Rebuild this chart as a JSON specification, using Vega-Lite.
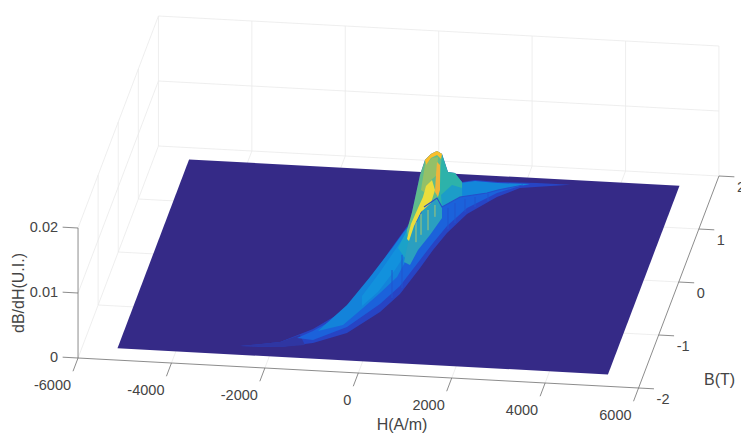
{"$schema":"https://vega.github.io/schema/vega-lite/v6.json","width":741,"height":433,"padding":0,"autosize":{"type":"none"},"background":"white","config":{"view":{"stroke":null}},
"data":{"values":[
{"k":"grid","p":"b1","H":-6000,"B":2,"z":0},{"k":"grid","p":"b1","H":-6000,"B":2,"z":0.02},
{"k":"grid","p":"b2","H":-4000,"B":2,"z":0},{"k":"grid","p":"b2","H":-4000,"B":2,"z":0.02},
{"k":"grid","p":"b3","H":-2000,"B":2,"z":0},{"k":"grid","p":"b3","H":-2000,"B":2,"z":0.02},
{"k":"grid","p":"b4","H":0,"B":2,"z":0},{"k":"grid","p":"b4","H":0,"B":2,"z":0.02},
{"k":"grid","p":"b5","H":2000,"B":2,"z":0},{"k":"grid","p":"b5","H":2000,"B":2,"z":0.02},
{"k":"grid","p":"b6","H":4000,"B":2,"z":0},{"k":"grid","p":"b6","H":4000,"B":2,"z":0.02},
{"k":"grid","p":"b7","H":6000,"B":2,"z":0},{"k":"grid","p":"b7","H":6000,"B":2,"z":0.02},
{"k":"grid","p":"l1","H":-6000,"B":-1,"z":0},{"k":"grid","p":"l1","H":-6000,"B":-1,"z":0.02},
{"k":"grid","p":"l2","H":-6000,"B":0,"z":0},{"k":"grid","p":"l2","H":-6000,"B":0,"z":0.02},
{"k":"grid","p":"l3","H":-6000,"B":1,"z":0},{"k":"grid","p":"l3","H":-6000,"B":1,"z":0.02},
{"k":"grid","p":"h0","H":-6000,"B":2,"z":0},{"k":"grid","p":"h0","H":6000,"B":2,"z":0},
{"k":"grid","p":"h1","H":-6000,"B":2,"z":0.01},{"k":"grid","p":"h1","H":6000,"B":2,"z":0.01},
{"k":"grid","p":"h2","H":-6000,"B":2,"z":0.02},{"k":"grid","p":"h2","H":6000,"B":2,"z":0.02},
{"k":"grid","p":"m0","H":-6000,"B":-2,"z":0},{"k":"grid","p":"m0","H":-6000,"B":2,"z":0},
{"k":"grid","p":"m1","H":-6000,"B":-2,"z":0.01},{"k":"grid","p":"m1","H":-6000,"B":2,"z":0.01},
{"k":"grid","p":"m2","H":-6000,"B":-2,"z":0.02},{"k":"grid","p":"m2","H":-6000,"B":2,"z":0.02},
{"k":"grid","p":"f1","H":-4000,"B":-2,"z":0},{"k":"grid","p":"f1","H":-4000,"B":2,"z":0},
{"k":"grid","p":"f2","H":-2000,"B":-2,"z":0},{"k":"grid","p":"f2","H":-2000,"B":2,"z":0},
{"k":"grid","p":"f3","H":0,"B":-2,"z":0},{"k":"grid","p":"f3","H":0,"B":2,"z":0},
{"k":"grid","p":"f4","H":2000,"B":-2,"z":0},{"k":"grid","p":"f4","H":2000,"B":2,"z":0},
{"k":"grid","p":"f5","H":4000,"B":-2,"z":0},{"k":"grid","p":"f5","H":4000,"B":2,"z":0},
{"k":"grid","p":"g1","H":-6000,"B":-1,"z":0},{"k":"grid","p":"g1","H":6000,"B":-1,"z":0},
{"k":"grid","p":"g2","H":-6000,"B":0,"z":0},{"k":"grid","p":"g2","H":6000,"B":0,"z":0},
{"k":"grid","p":"g3","H":-6000,"B":1,"z":0},{"k":"grid","p":"g3","H":6000,"B":1,"z":0},
{"k":"poly","p":"base","H":-5250,"B":-1.78,"z":0},{"k":"poly","p":"base","H":5250,"B":-1.78,"z":0},{"k":"poly","p":"base","H":5250,"B":1.78,"z":0},{"k":"poly","p":"base","H":-5250,"B":1.78,"z":0},
{"k":"poly","p":"outer","H":-2700,"B":-1.62,"z":0},{"k":"poly","p":"outer","H":-1890,"B":-1.504,"z":0},{"k":"poly","p":"outer","H":-1300,"B":-1.231,"z":0},{"k":"poly","p":"outer","H":-747,"B":-0.828,"z":0},{"k":"poly","p":"outer","H":-495,"B":-0.269,"z":0},{"k":"poly","p":"outer","H":-314,"B":0.306,"z":0},{"k":"poly","p":"outer","H":-184,"B":0.652,"z":0},{"k":"poly","p":"outer","H":-116,"B":0.843,"z":0},{"k":"poly","p":"outer","H":-140,"B":1,"z":0.00025},{"k":"poly","p":"outer","H":30,"B":1,"z":0.00602},{"k":"poly","p":"outer","H":137,"B":1,"z":0.00835},{"k":"poly","p":"outer","H":265,"B":1,"z":0.00934},{"k":"poly","p":"outer","H":394,"B":1,"z":0.00985},{"k":"poly","p":"outer","H":501,"B":1,"z":0.00942},{"k":"poly","p":"outer","H":629,"B":1,"z":0.00671},{"k":"poly","p":"outer","H":651,"B":1.3,"z":0.00411},{"k":"poly","p":"outer","H":715,"B":1.3,"z":0.00352},{"k":"poly","p":"outer","H":801,"B":1.3,"z":0.00278},{"k":"poly","p":"outer","H":1079,"B":1.3,"z":0.0032},{"k":"poly","p":"outer","H":1484,"B":1.5,"z":0.00142},{"k":"poly","p":"outer","H":2277,"B":1.6,"z":0.00075},{"k":"poly","p":"outer","H":2950,"B":1.69,"z":0},{"k":"poly","p":"outer","H":1920,"B":1.581,"z":0},{"k":"poly","p":"outer","H":1509,"B":1.392,"z":0},{"k":"poly","p":"outer","H":1016,"B":1.048,"z":0},{"k":"poly","p":"outer","H":747,"B":0.677,"z":0},{"k":"poly","p":"outer","H":589,"B":0.349,"z":0},{"k":"poly","p":"outer","H":460,"B":0.003,"z":0},{"k":"poly","p":"outer","H":246,"B":-0.498,"z":0},{"k":"poly","p":"outer","H":-30,"B":-0.85,"z":0},{"k":"poly","p":"outer","H":-556,"B":-1.271,"z":0},{"k":"poly","p":"outer","H":-1190,"B":-1.49,"z":0},{"k":"poly","p":"outer","H":-1850,"B":-1.597,"z":0},
{"k":"poly","p":"tail","H":-2700,"B":-1.62,"z":0},{"k":"poly","p":"tail","H":-1890,"B":-1.504,"z":0},{"k":"poly","p":"tail","H":-1526,"B":-1.355,"z":0},{"k":"poly","p":"tail","H":-1342,"B":-1.535,"z":0},{"k":"poly","p":"tail","H":-1850,"B":-1.597,"z":0},
{"k":"poly","p":"L1","H":-1513,"B":-1.533,"z":0.001},{"k":"poly","p":"L1","H":-1234,"B":-1.388,"z":0.001},{"k":"poly","p":"L1","H":-671,"B":-1.003,"z":0.001},{"k":"poly","p":"L1","H":-411,"B":-0.463,"z":0.001},{"k":"poly","p":"L1","H":-230,"B":0.112,"z":0.001},{"k":"poly","p":"L1","H":-79,"B":0.458,"z":0.001},{"k":"poly","p":"L1","H":-23,"B":0.725,"z":0.001},{"k":"poly","p":"L1","H":390,"B":1.16,"z":0.001},{"k":"poly","p":"L1","H":740,"B":1.44,"z":0.001},{"k":"poly","p":"L1","H":1479,"B":1.513,"z":0.001},{"k":"poly","p":"L1","H":2154,"B":1.535,"z":0.001},{"k":"poly","p":"L1","H":1956,"B":1.498,"z":0.001},{"k":"poly","p":"L1","H":1530,"B":1.346,"z":0.001},{"k":"poly","p":"L1","H":1020,"B":1.039,"z":0.001},{"k":"poly","p":"L1","H":743,"B":0.686,"z":0.001},{"k":"poly","p":"L1","H":585,"B":0.358,"z":0.001},{"k":"poly","p":"L1","H":447,"B":0.031,"z":0.001},{"k":"poly","p":"L1","H":234,"B":-0.47,"z":0.001},{"k":"poly","p":"L1","H":-42,"B":-0.823,"z":0.001},{"k":"poly","p":"L1","H":-552,"B":-1.281,"z":0.001},{"k":"poly","p":"L1","H":-1162,"B":-1.555,"z":0.001},
{"k":"poly","p":"L2","H":-1076,"B":-1.503,"z":0.002},{"k":"poly","p":"L2","H":-675,"B":-0.994,"z":0.002},{"k":"poly","p":"L2","H":-415,"B":-0.454,"z":0.002},{"k":"poly","p":"L2","H":-171,"B":0.124,"z":0.002},{"k":"poly","p":"L2","H":-73,"B":0.393,"z":0.002},{"k":"poly","p":"L2","H":29,"B":0.605,"z":0.002},{"k":"poly","p":"L2","H":195,"B":0.368,"z":0.002},{"k":"poly","p":"L2","H":233,"B":0.03,"z":0.002},{"k":"poly","p":"L2","H":152,"B":-0.427,"z":0.002},{"k":"poly","p":"L2","H":-78,"B":-0.739,"z":0.002},{"k":"poly","p":"L2","H":-315,"B":-1.034,"z":0.002},{"k":"poly","p":"L2","H":-599,"B":-1.368,"z":0.002},
{"k":"poly","p":"L3","H":-328,"B":-1.053,"z":0.004},{"k":"poly","p":"L3","H":-141,"B":-0.592,"z":0.004},{"k":"poly","p":"L3","H":-2,"B":-0.17,"z":0.004},{"k":"poly","p":"L3","H":102,"B":0.137,"z":0.004},{"k":"poly","p":"L3","H":121,"B":0.44,"z":0.004},{"k":"poly","p":"L3","H":337,"B":0.186,"z":0.004},{"k":"poly","p":"L3","H":271,"B":-0.157,"z":0.004},{"k":"poly","p":"L3","H":157,"B":-0.54,"z":0.004},{"k":"poly","p":"L3","H":-25,"B":-0.963,"z":0.004},{"k":"poly","p":"L3","H":-248,"B":-1.238,"z":0.004},
{"k":"poly","p":"L4","H":148,"B":-0.37,"z":0.006},{"k":"poly","p":"L4","H":190,"B":-0.067,"z":0.006},{"k":"poly","p":"L4","H":208,"B":0.236,"z":0.006},{"k":"poly","p":"L4","H":463,"B":-0.205,"z":0.006},{"k":"poly","p":"L4","H":375,"B":-0.548,"z":0.006},
{"k":"poly","p":"F","H":213,"B":0.774,"z":0.003},{"k":"poly","p":"F","H":414,"B":0.953,"z":0.003},{"k":"poly","p":"F","H":590,"B":0.792,"z":0.003},{"k":"poly","p":"F","H":678,"B":0.589,"z":0.003},{"k":"poly","p":"F","H":561,"B":0.262,"z":0.003},{"k":"poly","p":"F","H":429,"B":-0.027,"z":0.003},{"k":"poly","p":"F","H":380,"B":-0.312,"z":0.003},{"k":"poly","p":"F","H":231,"B":-0.263,"z":0.003},{"k":"poly","p":"F","H":163,"B":0.093,"z":0.003},{"k":"poly","p":"F","H":170,"B":0.376,"z":0.003},
{"k":"poly","p":"R","H":777,"B":1.254,"z":0.003},{"k":"poly","p":"R","H":1076,"B":1.305,"z":0.003},{"k":"poly","p":"R","H":1574,"B":1.291,"z":0.003},{"k":"poly","p":"R","H":2254,"B":1.304,"z":0.003},{"k":"poly","p":"R","H":1630,"B":1.162,"z":0.003},{"k":"poly","p":"R","H":1424,"B":1.095,"z":0.003},{"k":"poly","p":"R","H":889,"B":0.995,"z":0.003},
{"k":"poly","p":"T1","H":415,"B":1,"z":0.00955},{"k":"poly","p":"T1","H":501,"B":1,"z":0.00942},{"k":"poly","p":"T1","H":629,"B":1,"z":0.00671},{"k":"poly","p":"T1","H":651,"B":1.3,"z":0.00411},{"k":"poly","p":"T1","H":715,"B":1.3,"z":0.00352},{"k":"poly","p":"T1","H":801,"B":1.3,"z":0.00278},{"k":"poly","p":"T1","H":801,"B":1.3,"z":0.00063},{"k":"poly","p":"T1","H":590,"B":0.792,"z":0.003},{"k":"poly","p":"T1","H":373,"B":1,"z":0.00229},
{"k":"poly","p":"T2","H":715,"B":1,"z":0.00474},{"k":"poly","p":"T2","H":801,"B":1.3,"z":0.00186},{"k":"poly","p":"T2","H":801,"B":1.3,"z":0.00063},{"k":"poly","p":"T2","H":590,"B":0.792,"z":0.003},{"k":"poly","p":"T2","H":480,"B":1,"z":0.00311},
{"k":"poly","p":"M","H":-140,"B":1,"z":0.00025},{"k":"poly","p":"M","H":30,"B":1,"z":0.00602},{"k":"poly","p":"M","H":137,"B":1,"z":0.00835},{"k":"poly","p":"M","H":265,"B":1,"z":0.00934},{"k":"poly","p":"M","H":394,"B":1,"z":0.00985},{"k":"poly","p":"M","H":501,"B":1,"z":0.00942},{"k":"poly","p":"M","H":480,"B":1,"z":0.00772},{"k":"poly","p":"M","H":458,"B":1,"z":0.00463},{"k":"poly","p":"M","H":415,"B":1,"z":0.00262},{"k":"poly","p":"M","H":244,"B":1,"z":0.00178},{"k":"poly","p":"M","H":30,"B":1,"z":0.00032},{"k":"poly","p":"M","H":9,"B":0.6,"z":0.00142},{"k":"poly","p":"M","H":74,"B":0.3,"z":0.00174},{"k":"poly","p":"M","H":-76,"B":0.6,"z":0.00077},
{"k":"poly","p":"G","H":137,"B":1,"z":0.00758},{"k":"poly","p":"G","H":287,"B":1,"z":0.00872},{"k":"poly","p":"G","H":415,"B":1,"z":0.00892},{"k":"poly","p":"G","H":394,"B":1,"z":0.00615},{"k":"poly","p":"G","H":265,"B":1,"z":0.00534},{"k":"poly","p":"G","H":116,"B":1,"z":0.00343},{"k":"poly","p":"G","H":51,"B":1,"z":0.00371},
{"k":"poly","p":"Y","H":158,"B":1,"z":0.00437},{"k":"poly","p":"Y","H":287,"B":1,"z":0.00534},{"k":"poly","p":"Y","H":351,"B":1,"z":0.00383},{"k":"poly","p":"Y","H":265,"B":1,"z":0.0018},{"k":"poly","p":"Y","H":51,"B":1,"z":0.00032},{"k":"poly","p":"Y","H":74,"B":0.6,"z":0.00145},{"k":"poly","p":"Y","H":96,"B":0.3,"z":0.00158},{"k":"poly","p":"Y","H":53,"B":0.3,"z":0.00188},{"k":"poly","p":"Y","H":9,"B":0.6,"z":0.00172},{"k":"poly","p":"Y","H":-13,"B":1,"z":0.00092},{"k":"poly","p":"Y","H":94,"B":1,"z":0.00265},
{"k":"poly","p":"O","H":394,"B":1,"z":0.00815},{"k":"poly","p":"O","H":458,"B":1,"z":0.00771},{"k":"poly","p":"O","H":458,"B":1,"z":0.00386},{"k":"poly","p":"O","H":415,"B":1,"z":0.00277},{"k":"poly","p":"O","H":351,"B":1,"z":0.00352},{"k":"poly","p":"O","H":372,"B":1,"z":0.00614},
{"k":"poly","p":"Top","H":137,"B":1,"z":0.00835},{"k":"poly","p":"Top","H":265,"B":1,"z":0.00934},{"k":"poly","p":"Top","H":394,"B":1,"z":0.00985},{"k":"poly","p":"Top","H":501,"B":1,"z":0.00942},{"k":"poly","p":"Top","H":480,"B":1,"z":0.00865},{"k":"poly","p":"Top","H":394,"B":1,"z":0.00923},{"k":"poly","p":"Top","H":265,"B":1,"z":0.00872},{"k":"poly","p":"Top","H":158,"B":1,"z":0.0076},
{"k":"sy","p":"s1","H":258,"B":0.521,"z":0.004},{"k":"sy","p":"s1","H":258,"B":0.521,"z":0.0008},
{"k":"sy","p":"s2","H":389,"B":0.565,"z":0.00431},{"k":"sy","p":"s2","H":389,"B":0.565,"z":0.0012},
{"k":"sy","p":"s3","H":407,"B":0.868,"z":0.00262},{"k":"sy","p":"s3","H":407,"B":0.868,"z":0.0008},
{"k":"sy","p":"s4","H":232,"B":0.332,"z":0.00431},{"k":"sy","p":"s4","H":232,"B":0.332,"z":0.0012},
{"k":"sb","p":"d1","H":736,"B":0.752,"z":0.00323},{"k":"sb","p":"d1","H":736,"B":0.752,"z":0},
{"k":"sb","p":"d2","H":836,"B":0.869,"z":0.00308},{"k":"sb","p":"d2","H":836,"B":0.869,"z":0},
{"k":"sb","p":"d3","H":958,"B":1.083,"z":0.002},{"k":"sb","p":"d3","H":958,"B":1.083,"z":0},
{"k":"sb","p":"d4","H":1128,"B":1.185,"z":0.00154},{"k":"sb","p":"d4","H":1128,"B":1.185,"z":0},
{"k":"sb","p":"d5","H":1353,"B":1.309,"z":0.00108},{"k":"sb","p":"d5","H":1353,"B":1.309,"z":0},
{"k":"sb","p":"d6","H":111,"B":-0.58,"z":0.0043},{"k":"sb","p":"d6","H":111,"B":-0.58,"z":0},
{"k":"sb","p":"d7","H":241,"B":-0.385,"z":0.0051},{"k":"sb","p":"d7","H":241,"B":-0.385,"z":0},
{"k":"ridge","p":"r","H":213,"B":0.774,"z":0.003},{"k":"ridge","p":"r","H":414,"B":0.953,"z":0.003},{"k":"ridge","p":"r","H":590,"B":0.792,"z":0.003},{"k":"ridge","p":"r","H":889,"B":0.995,"z":0.003},{"k":"ridge","p":"r","H":1424,"B":1.095,"z":0.003},{"k":"ridge","p":"r","H":1630,"B":1.162,"z":0.003},{"k":"ridge","p":"r","H":2116,"B":1.279,"z":0.003},
{"k":"axis","p":"az","H":-6000,"B":-2,"z":0},{"k":"axis","p":"az","H":-6000,"B":-2,"z":0.02},
{"k":"axis","p":"ah","H":-6000,"B":-2,"z":0},{"k":"axis","p":"ah","H":6000,"B":-2,"z":0},
{"k":"axis","p":"ab","H":6000,"B":-2,"z":0},{"k":"axis","p":"ab","H":6000,"B":2,"z":0},
{"k":"axis","p":"tz0","H":-6000,"B":-2,"z":0},{"k":"axis","p":"tz0","H":-6330,"B":-2,"z":0},
{"k":"axis","p":"tz1","H":-6000,"B":-2,"z":0.01},{"k":"axis","p":"tz1","H":-6330,"B":-2,"z":0.01},
{"k":"axis","p":"tz2","H":-6000,"B":-2,"z":0.02},{"k":"axis","p":"tz2","H":-6330,"B":-2,"z":0.02},
{"k":"axis","p":"th1","H":-6000,"B":-2,"z":0},{"k":"axis","p":"th1","H":-6000,"B":-2.25,"z":0},
{"k":"axis","p":"th2","H":-4000,"B":-2,"z":0},{"k":"axis","p":"th2","H":-4000,"B":-2.25,"z":0},
{"k":"axis","p":"th3","H":-2000,"B":-2,"z":0},{"k":"axis","p":"th3","H":-2000,"B":-2.25,"z":0},
{"k":"axis","p":"th4","H":0,"B":-2,"z":0},{"k":"axis","p":"th4","H":0,"B":-2.25,"z":0},
{"k":"axis","p":"th5","H":2000,"B":-2,"z":0},{"k":"axis","p":"th5","H":2000,"B":-2.25,"z":0},
{"k":"axis","p":"th6","H":4000,"B":-2,"z":0},{"k":"axis","p":"th6","H":4000,"B":-2.25,"z":0},
{"k":"axis","p":"th7","H":6000,"B":-2,"z":0},{"k":"axis","p":"th7","H":6000,"B":-2.25,"z":0},
{"k":"axis","p":"tb1","H":6000,"B":-2,"z":0},{"k":"axis","p":"tb1","H":6330,"B":-2,"z":0},
{"k":"axis","p":"tb2","H":6000,"B":-1,"z":0},{"k":"axis","p":"tb2","H":6330,"B":-1,"z":0},
{"k":"axis","p":"tb3","H":6000,"B":0,"z":0},{"k":"axis","p":"tb3","H":6330,"B":0,"z":0},
{"k":"axis","p":"tb4","H":6000,"B":1,"z":0},{"k":"axis","p":"tb4","H":6330,"B":1,"z":0},
{"k":"axis","p":"tb5","H":6000,"B":2,"z":0},{"k":"axis","p":"tb5","H":6330,"B":2,"z":0},
{"k":"lh","t":"-6000","H":-6000,"B":-2,"z":0},{"k":"lh","t":"-4000","H":-4000,"B":-2,"z":0},{"k":"lh","t":"-2000","H":-2000,"B":-2,"z":0},{"k":"lh","t":"0","H":0,"B":-2,"z":0},{"k":"lh","t":"2000","H":2000,"B":-2,"z":0},{"k":"lh","t":"4000","H":4000,"B":-2,"z":0},{"k":"lh","t":"6000","H":6000,"B":-2,"z":0},
{"k":"lb","t":"-2","H":6000,"B":-2,"z":0},{"k":"lb","t":"-1","H":6000,"B":-1,"z":0},{"k":"lb","t":"0","H":6000,"B":0,"z":0},{"k":"lb","t":"1","H":6000,"B":1,"z":0},{"k":"lb","t":"2","H":6000,"B":2,"z":0},
{"k":"lz","t":"0","H":-6000,"B":-2,"z":0},{"k":"lz","t":"0.01","H":-6000,"B":-2,"z":0.01},{"k":"lz","t":"0.02","H":-6000,"B":-2,"z":0.02},
{"k":"tz","t":"dB/dH(U.I.)","H":-6000,"B":-2,"z":0.01},
{"k":"th","t":"H(A/m)","H":1000,"B":-2,"z":0},
{"k":"tb","t":"B(T)","H":6000,"B":-1.5,"z":0}
]},
"transform":[
{"window":[{"op":"row_number","as":"i"}]},
{"calculate":"398.5+0.04671*datum.H+20.1*datum.B","as":"sx"},
{"calculate":"267+0.0025*datum.H-53*datum.B-6500*datum.z","as":"sy"}
],
"encoding":{
"x":{"field":"sx","type":"quantitative","scale":{"domain":[0,741],"nice":false,"zero":false},"axis":null},
"y":{"field":"sy","type":"quantitative","scale":{"domain":[433,0],"nice":false,"zero":false},"axis":null}
},
"layer":[
{"transform":[{"filter":"datum.k==='grid'"}],"mark":{"type":"line","stroke":"#EAEAEA","strokeWidth":0.8},"encoding":{"detail":{"field":"p"},"order":{"field":"i"}}},
{"transform":[{"filter":"datum.k==='poly'"}],"mark":{"type":"line","filled":true,"strokeWidth":0.4},"encoding":{"detail":{"field":"p"},"order":{"field":"i"},
"color":{"field":"p","type":"nominal","legend":null,"sort":null,"scale":{"domain":["base","outer","tail","L1","L2","L3","L4","F","R","T1","T2","M","G","Y","O","Top"],"range":["#352A87","#2744C4","#2F36A2","#1B62DB","#1383DA","#1291DD","#1BA2C8","#2A9FC0","#1387DA","#2DB2AA","#1C9DC8","#5FBB8C","#93C068","#EBDD3C","#EFB43A","#F9BE2B"]}}}},
{"transform":[{"filter":"datum.k==='sy'"}],"mark":{"type":"line","stroke":"#C8D060","strokeWidth":0.8},"encoding":{"detail":{"field":"p"},"order":{"field":"i"}}},
{"transform":[{"filter":"datum.k==='sb'"}],"mark":{"type":"line","stroke":"#1F55CE","strokeWidth":1},"encoding":{"detail":{"field":"p"},"order":{"field":"i"}}},
{"transform":[{"filter":"datum.k==='ridge'"}],"mark":{"type":"line","stroke":"#2450CC","strokeWidth":1.2},"encoding":{"detail":{"field":"p"},"order":{"field":"i"}}},
{"transform":[{"filter":"datum.k==='axis'"}],"mark":{"type":"line","stroke":"#6E6E6E","strokeWidth":0.8},"encoding":{"detail":{"field":"p"},"order":{"field":"i"}}},
{"transform":[{"filter":"datum.k==='lh'"}],"mark":{"type":"text","font":"Liberation Sans","fontSize":14.5,"fill":"#444444","align":"right","baseline":"middle","dx":-7,"dy":28},"encoding":{"text":{"field":"t"}}},
{"transform":[{"filter":"datum.k==='lb'"}],"mark":{"type":"text","font":"Liberation Sans","fontSize":14.5,"fill":"#444444","align":"left","baseline":"middle","dx":18,"dy":11.5},"encoding":{"text":{"field":"t"}}},
{"transform":[{"filter":"datum.k==='lz'"}],"mark":{"type":"text","font":"Liberation Sans","fontSize":14.5,"fill":"#444444","align":"right","baseline":"middle","dx":-20,"dy":0},"encoding":{"text":{"field":"t"}}},
{"transform":[{"filter":"datum.k==='tz'"}],"mark":{"type":"text","font":"Liberation Sans","fontSize":16,"fill":"#444444","align":"center","baseline":"middle","angle":270,"dx":0,"dy":-59},"encoding":{"text":{"field":"t"}}},
{"transform":[{"filter":"datum.k==='th'"}],"mark":{"type":"text","font":"Liberation Sans","fontSize":16,"fill":"#444444","align":"center","baseline":"middle","dx":-3,"dy":49.5},"encoding":{"text":{"field":"t"}}},
{"transform":[{"filter":"datum.k==='tb'"}],"mark":{"type":"text","font":"Liberation Sans","fontSize":16,"fill":"#444444","align":"center","baseline":"middle","dx":71,"dy":18.5},"encoding":{"text":{"field":"t"}}}
]}
